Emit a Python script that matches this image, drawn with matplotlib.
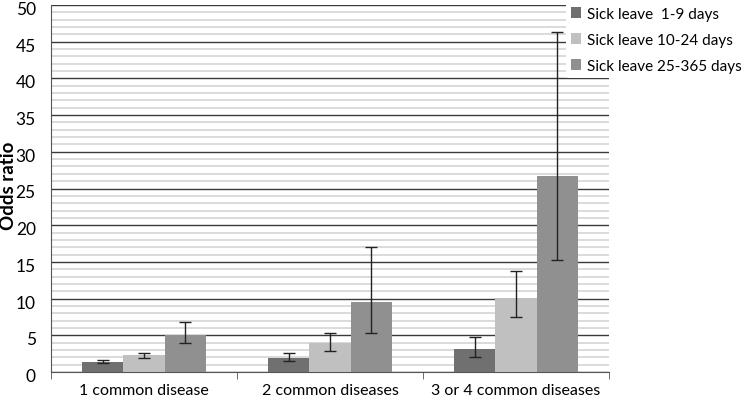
import matplotlib
matplotlib.use("Agg")
import matplotlib.pyplot as plt
import matplotlib.transforms as mtransforms
import numpy as np
from matplotlib.patches import Patch

categories = ["1 common disease", "2 common diseases", "3 or 4 common diseases"]
series = ["Sick leave  1-9 days", "Sick leave 10-24 days", "Sick leave 25-365 days"]
values = [
    [1.4, 1.9, 3.2],
    [2.3, 3.9, 10.1],
    [5.0, 9.6, 26.7],
]
lower = [
    [1.2, 1.5, 2.1],
    [1.9, 2.8, 7.5],
    [3.9, 5.3, 15.3],
]
upper = [
    [1.6, 2.6, 4.8],
    [2.6, 5.3, 13.8],
    [6.8, 17.0, 46.3],
]
colors = ["#707070", "#c0c0c0", "#909090"]

plt.rcParams['font.family'] = ['Lato', 'DejaVu Sans']

fig = plt.figure(figsize=(7.42, 4.02), dpi=100)
ax = fig.add_axes([51/742, 29/402, (609-51)/742, 367/402])

x = np.arange(len(categories))
w = 0.223
for i, s in enumerate(series):
    v = np.array(values[i]); lo = np.array(lower[i]); hi = np.array(upper[i])
    pos = x + (i - 1) * w
    ax.bar(pos, v, width=w, color=colors[i], zorder=3, label=s)
    ax.errorbar(pos, v, yerr=[v - lo, hi - v], fmt='none', ecolor='#222222',
                elinewidth=1.0, capsize=4, capthick=1.0, zorder=4)

ax.set_xlim(-0.5, 2.5)
ax.set_ylim(0, 50)
ax.set_yticks(np.arange(0, 51, 5))
ax.set_yticks(np.arange(0, 51, 1), minor=True)
ax.grid(axis='y', which='major', color='#3a3a3a', linewidth=1.0, zorder=1)
ax.grid(axis='y', which='minor', color='#d4d4d4', linewidth=1.2, zorder=0)
ax.tick_params(axis='y', which='both', length=0, labelsize=12.5, pad=11)
off = mtransforms.ScaledTranslation(0, -2.5/100, fig.dpi_scale_trans)
for lab in ax.get_yticklabels():
    lab.set_transform(lab.get_transform() + off)

ax.set_xticks(x)
ax.set_xticklabels(categories, fontsize=11.5)
ax.set_xticks([-0.5, 0.5, 1.5, 2.5], minor=True)
ax.tick_params(axis='x', which='major', length=0, pad=8)
ax.tick_params(axis='x', which='minor', length=5, color='#555555', direction='out')

for sp in ['top', 'right']:
    ax.spines[sp].set_visible(False)
ax.spines['left'].set_color('#555555')
ax.spines['bottom'].set_color('#555555')

fig.text(9/742, 1 - 186/402, "Odds ratio", rotation=90, ha='center', va='center',
         fontsize=13.5, fontweight='bold')

handles = [Patch(facecolor=c, edgecolor='none') for c in colors]
leg = fig.legend(handles, series, loc='upper left', bbox_to_anchor=(566/742, 1 - 3/402),
                 frameon=True, fontsize=11, handlelength=0.7, handleheight=0.7,
                 handletextpad=0.4, labelspacing=0.8, borderpad=0.3, borderaxespad=0)
leg.get_frame().set_edgecolor('none')
leg.get_frame().set_facecolor('white')
leg.get_frame().set_alpha(1)

fig.savefig("out.png", dpi=100)
